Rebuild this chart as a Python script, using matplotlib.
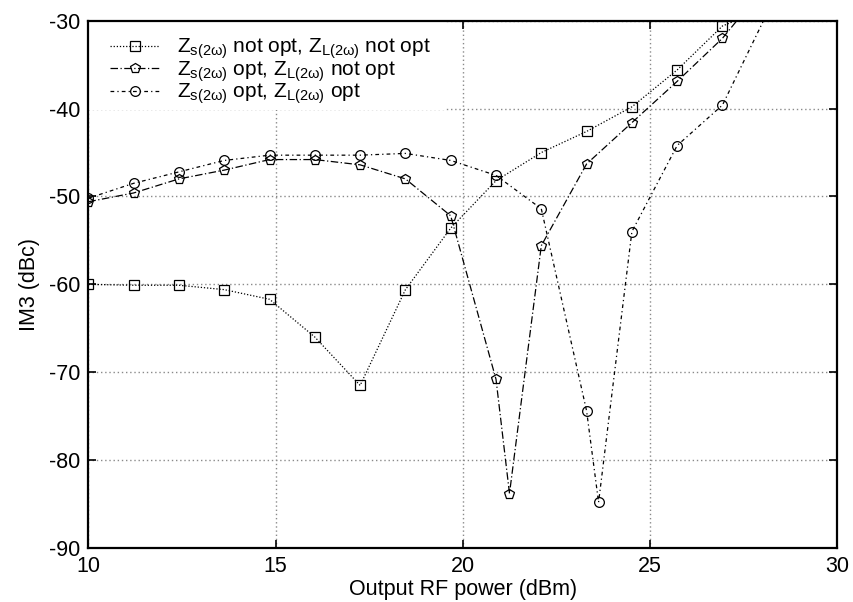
import matplotlib
matplotlib.use("Agg")
import matplotlib.pyplot as plt
from matplotlib.patches import Rectangle

plt.rcParams["font.family"] = ["Liberation Sans", "DejaVu Sans"]
plt.rcParams["mathtext.fontset"] = "custom"
plt.rcParams["mathtext.rm"] = "Liberation Sans"
plt.rcParams["mathtext.it"] = "Liberation Sans:italic"
plt.rcParams["axes.unicode_minus"] = False

# Output power sweep (dBm) and measured IM3 (dBc)
x_notopt = [10, 11.21, 12.42, 13.63, 14.84, 16.05, 17.26, 18.47, 19.68, 20.89,
            22.10, 23.31, 24.52, 25.73, 26.94, 28.15]
im3_notopt = [-60.0, -60.1, -60.1, -60.6, -61.7, -66.0, -71.5, -60.6, -53.6, -48.2,
              -45.0, -42.6, -39.8, -35.6, -30.6, -28.5]

x_src_opt = [10, 11.21, 12.42, 13.63, 14.84, 16.05, 17.26, 18.47, 19.68, 20.89,
             21.25, 22.10, 23.31, 24.52, 25.73, 26.94, 28.15]
im3_src_opt = [-50.6, -49.6, -48.0, -47.0, -45.8, -45.8, -46.4, -48.0, -52.2, -70.8,
               -83.8, -55.6, -46.3, -41.6, -36.9, -32.0, -25.7]

x_both_opt = [10, 11.21, 12.42, 13.63, 14.84, 16.05, 17.26, 18.47, 19.68, 20.89,
              22.10, 23.31, 23.63, 24.52, 25.73, 26.94, 28.15]
im3_both_opt = [-50.2, -48.5, -47.2, -45.9, -45.3, -45.3, -45.3, -45.1, -45.9, -47.6,
                -51.4, -74.4, -84.8, -54.0, -44.2, -39.6, -29.0]

labels = [
    r"Z$_{\mathrm{s(2ω)}}$ not opt, Z$_{\mathrm{L(2ω)}}$ not opt",
    r"Z$_{\mathrm{s(2ω)}}$ opt, Z$_{\mathrm{L(2ω)}}$ not opt",
    r"Z$_{\mathrm{s(2ω)}}$ opt, Z$_{\mathrm{L(2ω)}}$ opt",
]
x_ticks = [10, 15, 20, 25, 30]
y_ticks = [-90, -80, -70, -60, -50, -40, -30]

fig = plt.figure(figsize=(8.54, 6.02), dpi=100)
ax = fig.add_axes([0.1035, 0.0897, 0.8766, 0.8759])

ax.grid(True, color="#8a8a8a", linestyle=(0, (1, 2)), linewidth=1.0)
ax.set_axisbelow(True)

# white key area hiding the grid behind the legend
ax.add_patch(Rectangle((0, 0.8306), 0.4764, 0.1694, transform=ax.transAxes,
                       facecolor="white", edgecolor="none", zorder=1.8))

ax.plot(x_notopt, im3_notopt, color="black", linestyle=(0, (1, 1.5)), linewidth=0.9,
        marker="s", markersize=7.5, markerfacecolor="none", markeredgewidth=0.9,
        label=labels[0], zorder=3)
ax.plot(x_src_opt, im3_src_opt, color="black", linestyle=(0, (6, 2, 1, 2)), linewidth=0.9,
        marker="p", markersize=7.5, markerfacecolor="none", markeredgewidth=0.9,
        label=labels[1], zorder=3)
ax.plot(x_both_opt, im3_both_opt, color="black", linestyle=(0, (3, 2.5, 1, 2.5)), linewidth=0.9,
        marker="o", markersize=7, markerfacecolor="none", markeredgewidth=0.9,
        label=labels[2], zorder=3)

ax.set_xlim(10, 30)
ax.set_ylim(-90, -30)
ax.set_xticks(x_ticks)
ax.set_yticks(y_ticks)
ax.tick_params(direction="in", top=True, right=True, length=6, width=1.2,
               labelsize=15.5, pad=6)
for s in ax.spines.values():
    s.set_linewidth(1.6)

ax.set_xlabel("Output RF power (dBm)", fontsize=15.5, labelpad=1)
ax.set_ylabel("IM3 (dBc)", fontsize=15.5, labelpad=6)

leg = ax.legend(loc="upper left", frameon=False, fontsize=15, handlelength=2.4,
                handletextpad=0.8, labelspacing=-0.1, borderaxespad=0.0,
                bbox_to_anchor=(0.018, 0.985))

fig.savefig("out.png", dpi=100)
